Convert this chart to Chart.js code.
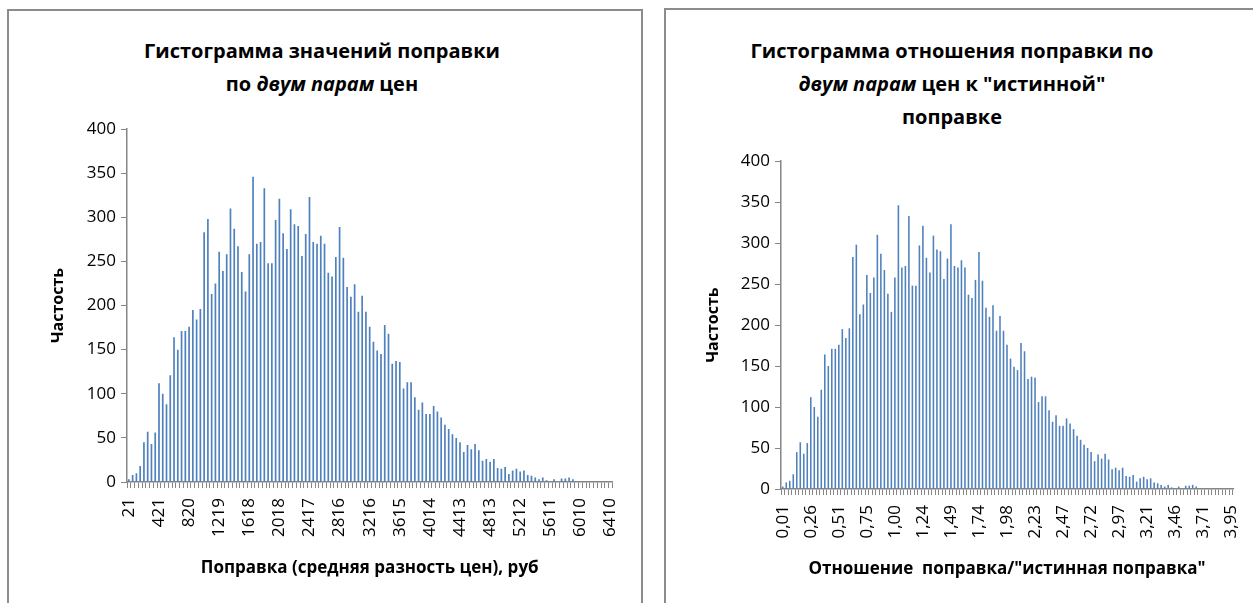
<!DOCTYPE html>
<html>
<head>
<meta charset="utf-8">
<script src="https://cdn.jsdelivr.net/npm/chart.js@4.4.1/dist/chart.umd.min.js"></script>
<style>
  body { margin: 0; width: 1253px; height: 603px; overflow: hidden; background: #fff; font-family: "Open Sans", sans-serif; }
  .box { position: absolute; box-sizing: border-box; border: 2px solid #8c8c8c; background: #fff; }
  .title { position: absolute; text-align: center; font-weight: bold; font-size: 20px; line-height: 33px; color: #000; }
  .wrap { position: absolute; }
</style>
</head>
<body>
<div class="box" style="left:7px; top:9px; width:636px; height:700px;"></div>
<div class="box" style="left:664px; top:8px; width:700px; height:700px;"></div>

<div class="title" style="left:122px; top:34px; width:400px;">Гистограмма значений поправки<br>по <i>двум парам</i> цен</div>
<div class="title" style="left:702px; top:34px; width:500px;">Гистограмма отношения поправки по<br><i>двум парам</i> цен к "истинной"<br>поправке</div>

<div class="wrap" style="left:9px; top:11px;"><canvas id="leftChart" width="632" height="592"></canvas></div>
<div class="wrap" style="left:666px; top:10px;"><canvas id="rightChart" width="600" height="593"></canvas></div>

<script>
//counts per bin (same sample for both histograms)
const counts = [3, 8, 10, 18, 45, 57, 43, 56, 112, 100, 88, 121, 164, 150, 171, 171, 176, 195, 184, 196,
    283, 298, 213, 225, 261, 239, 258, 310, 287, 267, 238, 216, 258, 346, 270, 272, 333, 248, 248, 297,
    321, 282, 264, 309, 292, 290, 256, 281, 323, 272, 270, 279, 270, 237, 233, 255, 289, 254, 221, 210,
    224, 193, 211, 193, 176, 159, 149, 145, 178, 168, 134, 137, 136, 106, 113, 113, 96, 82, 90, 77,
    77, 86, 80, 73, 65, 60, 54, 50, 45, 34, 42, 37, 43, 36, 24, 26, 23, 26, 16, 15,
    17, 9, 13, 15, 12, 13, 8, 7, 5, 3, 5, 2, 0, 3, 0, 4, 4, 5, 3, 0,
    0, 0, 0, 0, 0, 0, 0, 0, 0];

//tick labels shown on x axis (every 8th bin)
const leftTicks = ['21', '421', '820', '1219', '1618', '2018', '2417', '2816', '3216', '3615',
    '4014', '4413', '4813', '5212', '5611', '6010', '6410'];
const rightTicks = ['0,01', '0,26', '0,51', '0,75', '1,00', '1,24', '1,49', '1,74', '1,98', '2,23',
    '2,47', '2,72', '2,97', '3,21', '3,46', '3,71', '3,95'];
const tickEvery = 8;

const axisGrey = '#868686';
const barBlue = '#4f81bd';
const font = 'Open Sans';

function makeChart(id, ticks, xTitle, pad, yWidth, xHeight) {
    const labels = counts.map((c, i) => i % tickEvery === 0 ? ticks[i / tickEvery] : '');
    const ctx = document.getElementById(id).getContext('2d');
    return new Chart(ctx, {
        type: 'bar',
        data: {
            labels: labels,
            datasets: [{
                data: counts,
                backgroundColor: barBlue,
                borderWidth: 0,
                barPercentage: 0.45,
                categoryPercentage: 1
            }]
        },
        options: {
            responsive: false,
            animation: false,
            devicePixelRatio: 1,
            layout: { padding: pad },
            plugins: { legend: { display: false }, tooltip: { enabled: false } },
            scales: {
                x: {
                    grid: { display: true, drawOnChartArea: false, drawTicks: true, tickLength: 6, color: axisGrey, lineWidth: 1 },
                    border: { color: axisGrey, width: 1.5 },
                    ticks: {
                        autoSkip: false, minRotation: 90, maxRotation: 90, padding: 10,
                        color: '#000', font: { family: font, size: 17 }
                    },
                    title: { display: true, text: xTitle, color: '#000', font: { family: font, size: 17, weight: 'bold' } },
                    afterFit: s => { s.height = xHeight; }
                },
                y: {
                    min: 0, max: 400,
                    grid: { display: true, drawOnChartArea: false, drawTicks: true, tickLength: 6, color: axisGrey },
                    border: { color: axisGrey, width: 1.5 },
                    ticks: { stepSize: 50, padding: 5, color: '#000', font: { family: font, size: 17 } },
                    title: { display: true, text: 'Частость', color: '#000', font: { family: font, size: 16, weight: 'bold' } },
                    afterFit: s => { s.width = yWidth; }
                }
            }
        }
    });
}

makeChart('leftChart', leftTicks, 'Поправка (средняя разность цен), руб',
    { top: 118, left: 36, right: 28, bottom: 21 }, 82, 100);
makeChart('rightChart', rightTicks, 'Отношение  поправка/"истинная поправка"',
    { top: 151, left: 34, right: 33, bottom: 20 }, 81, 94);
</script>
</body>
</html>
